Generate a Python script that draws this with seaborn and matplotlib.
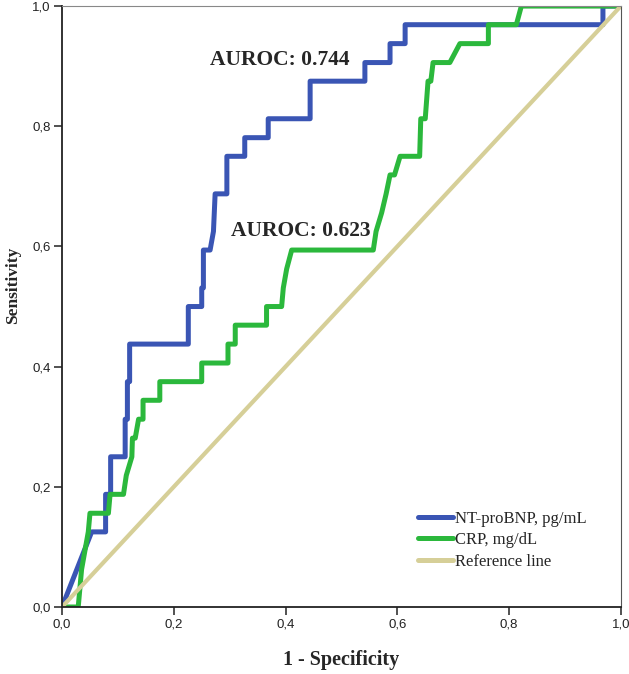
import pandas as pd
import matplotlib
matplotlib.use("Agg")
import matplotlib.pyplot as plt
import seaborn as sns

# ROC curve vertices (1 - specificity, sensitivity)
bnp_fpr = [0, 0.053, 0.078, 0.078, 0.087, 0.087, 0.113, 0.113, 0.117, 0.117, 0.121, 0.121,
           0.226, 0.226, 0.25, 0.25, 0.253, 0.253, 0.265, 0.271, 0.274, 0.295, 0.295, 0.327,
           0.327, 0.369, 0.369, 0.444, 0.444, 0.542, 0.542, 0.587, 0.587, 0.614, 0.614,
           0.968, 0.968, 1.0]
bnp_tpr = [0, 0.125, 0.125, 0.1875, 0.1875, 0.25, 0.25, 0.3125, 0.3125, 0.375, 0.375, 0.4375,
           0.4375, 0.5, 0.5, 0.531, 0.531, 0.594, 0.594, 0.625, 0.6875, 0.6875, 0.75, 0.75,
           0.781, 0.781, 0.8125, 0.8125, 0.875, 0.875, 0.906, 0.906, 0.9375, 0.9375, 0.969,
           0.969, 1.0, 1.0]

crp_fpr = [0, 0.029, 0.035, 0.047, 0.05, 0.083, 0.086, 0.11, 0.115, 0.125, 0.126, 0.131,
           0.137, 0.145, 0.145, 0.175, 0.175, 0.25, 0.25, 0.297, 0.297, 0.31, 0.31, 0.366,
           0.366, 0.393, 0.396, 0.402, 0.411, 0.557, 0.562, 0.572, 0.58, 0.587, 0.595, 0.605,
           0.64, 0.642, 0.65, 0.655, 0.66, 0.664, 0.694, 0.712, 0.763, 0.763, 0.813, 0.822, 1.0]
crp_tpr = [0, 0, 0.0625, 0.125, 0.156, 0.156, 0.1875, 0.1875, 0.219, 0.25, 0.281, 0.281,
           0.3125, 0.3125, 0.344, 0.344, 0.375, 0.375, 0.406, 0.406, 0.4375, 0.4375, 0.469,
           0.469, 0.5, 0.5, 0.531, 0.5625, 0.594, 0.594, 0.625, 0.656, 0.6875, 0.719, 0.719,
           0.75, 0.75, 0.8125, 0.8125, 0.875, 0.875, 0.906, 0.906, 0.9375, 0.9375, 0.969,
           0.969, 1.0, 1.0]

ref_x = [0, 1]
ref_y = [0, 1]

series_names = ["NT-proBNP, pg/mL", "CRP, mg/dL", "Reference line"]
colors = ["#3a55b4", "#2bb83c", "#d6cf98"]
auroc_labels = ["AUROC: 0.744", "AUROC: 0.623"]

df = pd.concat([
    pd.DataFrame({"fpr": bnp_fpr, "tpr": bnp_tpr, "curve": series_names[0]}),
    pd.DataFrame({"fpr": crp_fpr, "tpr": crp_tpr, "curve": series_names[1]}),
    pd.DataFrame({"fpr": ref_x, "tpr": ref_y, "curve": series_names[2]}),
])

sns.set_style("white")
fig = plt.figure(figsize=(6.29, 6.74), dpi=100)
ax = fig.add_axes([0.0986, 0.0994, 0.8884, 0.8916])

sns.lineplot(data=df, x="fpr", y="tpr", hue="curve", palette=colors, sort=False,
             estimator=None, linewidth=3.6, ax=ax)
ax.lines[2].set_linewidth(3.0)

ax.set_xlim(0, 1)
ax.set_ylim(0, 1)
ticks = [0, 0.2, 0.4, 0.6, 0.8, 1.0]
tick_labels = ["0,0", "0,2", "0,4", "0,6", "0,8", "1,0"]
ax.set_xticks(ticks)
ax.set_xticklabels(tick_labels)
ax.set_yticks(ticks)
ax.set_yticklabels(tick_labels)
ax.tick_params(axis="both", direction="out", length=6, width=1.1, labelsize=9.5, pad=2,
               left=True, bottom=True, colors="#222222")
for lab in ax.get_xticklabels() + ax.get_yticklabels():
    lab.set_fontfamily("Liberation Sans")

ax.spines["left"].set_linewidth(1.3)
ax.spines["bottom"].set_linewidth(1.3)
ax.spines["left"].set_color("#222222")
ax.spines["bottom"].set_color("#222222")
ax.spines["top"].set_color("#888888")
ax.spines["right"].set_color("#555555")

ax.set_xlabel("1 - Specificity", fontsize=14.5, fontweight="bold",
              fontfamily="Liberation Serif", labelpad=14)
ax.set_ylabel("Sensitivity", fontsize=12.5, fontweight="bold",
              fontfamily="Liberation Serif")
ax.yaxis.set_label_coords(-0.074, 0.536)

ax.text(0.265, 0.911, auroc_labels[0], fontsize=15.5, fontweight="bold",
        fontfamily="Liberation Serif", va="center", ha="left")
ax.text(0.302, 0.625, auroc_labels[1], fontsize=15.5, fontweight="bold",
        fontfamily="Liberation Serif", va="center", ha="left")

leg = ax.legend(loc="upper left", bbox_to_anchor=(0.61, 0.185), frameon=False,
                prop={"family": "Liberation Serif", "size": 12}, handlelength=2.1,
                handletextpad=0.15, labelspacing=0.33)
for h in leg.get_lines():
    h.set_linewidth(3.6)
leg.set_title(None)

fig.savefig("out.png", dpi=100)
